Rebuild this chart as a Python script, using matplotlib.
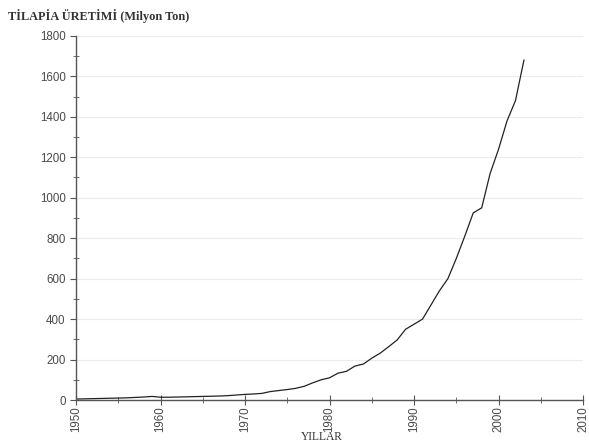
import numpy as np
import matplotlib
matplotlib.use("Agg")
from matplotlib import pyplot as plt
from matplotlib.ticker import MultipleLocator

# yearly tilapia production
years = list(range(1950, 2004))
production = [5, 6, 7, 8, 9, 10, 11, 13, 15, 18,
              14, 14, 15, 16, 17, 18, 19, 20, 22, 25,
              28, 30, 33, 42, 47, 52, 58, 68, 85, 100,
              110, 133, 142, 168, 178, 207, 232, 264, 297, 350,
              375, 400, 470, 540, 600, 700, 810, 925, 950, 1120,
              1240, 1380, 1480, 1680]

x_ticks = [1950, 1960, 1970, 1980, 1990, 2000, 2010]
y_ticks = [0, 200, 400, 600, 800, 1000, 1200, 1400, 1600, 1800]

fig = plt.figure(figsize=(5.89, 4.48), dpi=100)
ax = fig.add_axes([0.129, 0.107, 0.861, 0.813])

ax.plot(years, production, color='#222222', lw=0.9)

ax.set_xlim(1950, 2010)
ax.set_ylim(0, 1800)
ax.set_xticks(x_ticks)
ax.set_yticks(y_ticks)
ax.xaxis.set_minor_locator(MultipleLocator(5))
ax.yaxis.set_minor_locator(MultipleLocator(100))

ax.grid(axis='y', color='#ececec', lw=0.8)
ax.set_axisbelow(True)

for s in ['top', 'right']:
    ax.spines[s].set_visible(False)
for s in ['left', 'bottom']:
    ax.spines[s].set_color('#555555')
    ax.spines[s].set_linewidth(1.0)

ax.tick_params(which='major', length=4, color='#555555', labelsize=8.3,
               labelcolor='#4a4a4a')
ax.tick_params(which='minor', length=4, direction='inout', color='#555555')
ax.tick_params(axis='x', which='major', direction='inout', length=7, pad=1)
plt.setp(ax.get_xticklabels(), rotation=90, family='Liberation Sans')
plt.setp(ax.get_yticklabels(), family='Liberation Sans')

fig.text(0.014, 0.965, 'TİLAPİA ÜRETİMİ (Milyon Ton)', family='Liberation Serif',
         fontsize=8.8, fontweight='bold', color='#333333', va='center')
fig.text(0.547, 0.025, 'YILLAR', family='Liberation Serif', fontsize=8.3,
         color='#333333', ha='center', va='center')

fig.savefig('out.png', dpi=100)
